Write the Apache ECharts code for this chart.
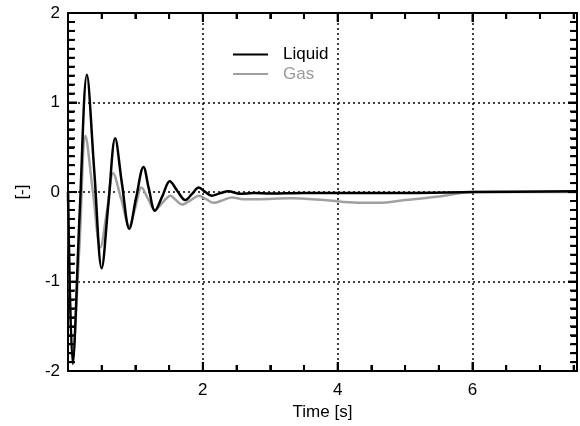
<!DOCTYPE html>
<html>
<head>
<meta charset="utf-8">
<script src="https://cdn.jsdelivr.net/npm/echarts@6/dist/echarts.min.js"></script>
<style>html,body{margin:0;padding:0;background:#fff}#c{width:580px;height:426px}</style>
</head>
<body>
<div id="c"></div>
<script>
const seriesNames = ['Liquid', 'Gas'];
const liquidT = [0, 0.07, 0.175, 0.28, 0.39, 0.50, 0.60, 0.70, 0.80, 0.91, 1.01, 1.12, 1.20, 1.29, 1.40, 1.51, 1.62, 1.74, 1.84, 1.94, 2.03, 2.13, 2.25, 2.38, 2.55, 2.75, 3.0, 3.5, 4.0, 5.0, 6.0, 7.55];
const liquidV = [0, -1.92, -0.2, 1.31, 0.23, -0.85, -0.125, 0.60, 0.095, -0.41, -0.065, 0.28, 0.035, -0.21, -0.045, 0.12, 0.015, -0.09, -0.02, 0.05, 0.005, -0.04, -0.015, 0.01, -0.02, -0.01, -0.015, -0.01, -0.01, -0.01, 0, 0.01];
const gasT = [0, 0.07, 0.17, 0.26, 0.37, 0.48, 0.58, 0.67, 0.79, 0.91, 1.00, 1.09, 1.19, 1.29, 1.40, 1.52, 1.60, 1.69, 1.82, 1.94, 2.05, 2.16, 2.30, 2.43, 2.6, 2.8, 3.3, 3.8, 4.3, 4.6, 5.0, 5.5, 6.0, 6.5, 7.55];
const gasV = [0, -1.85, -0.6, 0.63, 0.0, -0.62, -0.2, 0.21, -0.08, -0.38, -0.17, 0.05, -0.08, -0.20, -0.12, -0.04, -0.09, -0.14, -0.09, -0.04, -0.08, -0.12, -0.09, -0.06, -0.08, -0.08, -0.07, -0.09, -0.12, -0.12, -0.09, -0.05, 0.0, 0.0, 0.0];
const xTicks = [2, 4, 6];
const yTicks = [-2, -1, 0, 1, 2];

const liquidData = liquidT.map((t, i) => [t, liquidV[i]]);
const gasData = gasT.map((t, i) => [t, gasV[i]]);

const font = 'Liberation Sans, Arial, sans-serif';
const X_MIN = 0, X_MAX = 7.55, Y_MIN = -2, Y_MAX = 2;
const chart = echarts.init(document.getElementById('c'), null, {renderer: 'canvas'});
function frame(split) {
  return {
    axisLine: {show: true, onZero: false, lineStyle: {color: '#000', width: 2}},
    axisTick: {show: true, inside: true, length: 9, lineStyle: {color: '#000', width: 2}},
    minorTick: {show: true, splitNumber: split, length: 6, lineStyle: {color: '#000', width: 2}}
  };
}
chart.setOption({
  animation: false,
  grid: {left: 68, right: 3, top: 13, bottom: 53},
  legend: {
    orient: 'vertical', left: 228, top: 41, itemWidth: 35, itemHeight: 2, itemGap: 2.5, icon: 'rect',
    textStyle: {fontFamily: font, fontSize: 17, padding: [0, 0, 0, 10]},
    data: [
      {name: seriesNames[0], textStyle: {color: '#000'}},
      {name: seriesNames[1], textStyle: {color: '#999'}}
    ]
  },
  xAxis: [Object.assign({
    type: 'value', min: X_MIN, max: X_MAX, interval: 2,
    name: 'Time [s]', nameLocation: 'middle', nameGap: 30,
    nameTextStyle: {fontFamily: font, fontSize: 17, color: '#000'},
    axisLabel: {fontFamily: font, fontSize: 17, color: '#000', margin: 11, showMaxLabel: false,
      formatter: v => xTicks.includes(v) ? String(v) : ''},
    splitLine: {show: true, lineStyle: {color: '#000', type: [2, 3], width: 1.5}}
  }, frame(4)), Object.assign({
    type: 'value', min: X_MIN, max: X_MAX, interval: 2, position: 'top',
    axisLabel: {show: false}, splitLine: {show: false}
  }, frame(4))],
  yAxis: [Object.assign({
    type: 'value', min: Y_MIN, max: Y_MAX, interval: 1,
    name: '[-]', nameLocation: 'middle', nameGap: 37, nameRotate: 90,
    nameTextStyle: {fontFamily: font, fontSize: 17, color: '#000'},
    axisLabel: {fontFamily: font, fontSize: 17, color: '#000', margin: 8,
      formatter: v => yTicks.includes(v) ? String(v) : ''},
    splitLine: {show: true, lineStyle: {color: '#000', type: [2, 3], width: 1.5}}
  }, frame(10)), Object.assign({
    type: 'value', min: Y_MIN, max: Y_MAX, interval: 1, position: 'right',
    axisLabel: {show: false}, splitLine: {show: false}
  }, frame(10))],
  series: [{
    name: seriesNames[1], type: 'line', data: gasData, smooth: 0.35, showSymbol: false, symbol: 'none',
    color: '#a0a0a0', lineStyle: {color: '#a0a0a0', width: 2.5}, z: 3
  }, {
    name: seriesNames[0], type: 'line', data: liquidData, smooth: 0.35, showSymbol: false, symbol: 'none',
    color: '#000', lineStyle: {color: '#000', width: 2.5}, z: 4
  }]
});

// Extra filled tick bars along the inside of the frame, placed through the axis scales.
(function drawTicks() {
  const els = [];
  const pxLeft = chart.convertToPixel({xAxisIndex: 0}, X_MIN);
  const pxRight = chart.convertToPixel({xAxisIndex: 0}, X_MAX);
  const pxBottom = chart.convertToPixel({yAxisIndex: 0}, Y_MIN);
  const pxTop = chart.convertToPixel({yAxisIndex: 0}, Y_MAX);
  for (let k = 1; k * 0.5 < X_MAX; k++) {
    const px = chart.convertToPixel({xAxisIndex: 0}, k * 0.5);
    const len = (k % 4 === 0) ? 9 : 6;
    els.push({type: 'rect', silent: true, z: 100, shape: {x: px - 1, y: pxBottom - len, width: 2, height: len}, style: {fill: '#000'}});
    els.push({type: 'rect', silent: true, z: 100, shape: {x: px - 1, y: pxTop, width: 2, height: len}, style: {fill: '#000'}});
  }
  for (let k = 1; k < 40; k++) {
    const py = chart.convertToPixel({yAxisIndex: 0}, Y_MIN + k * 0.1);
    const len = (k % 10 === 0) ? 9 : 7;
    els.push({type: 'rect', silent: true, z: 100, shape: {x: pxLeft, y: py - 1, width: len, height: 2}, style: {fill: '#000'}});
    els.push({type: 'rect', silent: true, z: 100, shape: {x: pxRight - len, y: py - 1, width: len, height: 2}, style: {fill: '#000'}});
  }
  chart.setOption({graphic: {elements: els}});
})();
</script>
</body>
</html>
